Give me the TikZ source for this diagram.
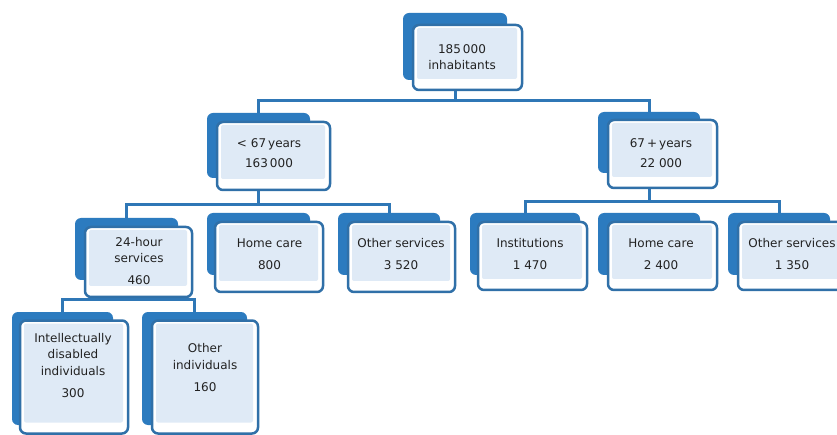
\documentclass[tikz,border=0pt]{standalone}
\usepackage{fontspec}
\setmainfont{DejaVu Sans}
\usetikzlibrary{backgrounds}
\definecolor{backblue}{HTML}{2C7BBF}
\definecolor{edgeblue}{HTML}{3070A8}
\definecolor{linkblue}{HTML}{2F77B6}
\definecolor{innerfill}{HTML}{DFEAF6}
\definecolor{txtcol}{HTML}{222222}
\tikzset{
  backbox/.style={fill=backblue, rounded corners=6pt, inner sep=0pt, outer sep=0pt},
  frontbox/.style={fill=white, draw=edgeblue, line width=2.5pt, rounded corners=6pt,
    inner sep=0pt, outer sep=0pt,
    path picture={\fill[innerfill, rounded corners=2pt]
      ([xshift=4pt,yshift=-3pt]path picture bounding box.north west) rectangle
      ([xshift=-5pt,yshift=11pt]path picture bounding box.south east);}},
  txt/.style={align=center, text=txtcol, inner sep=0pt, font=\fontsize{12}{16.5}\selectfont},
  link/.style={draw=linkblue, line width=3pt}
}
\begin{document}
\begin{tikzpicture}[x=1pt,y=-1pt]
\useasboundingbox (0,0) rectangle (837,435);
% back boxes
\node[backbox, minimum width=104, minimum height=67] (broot) at (455,46.5) {};
\node[backbox, minimum width=103, minimum height=65] (blt) at (258.5,145.5) {};
\node[backbox, minimum width=102, minimum height=61] (brt) at (649,142.5) {};
\node[backbox, minimum width=103, minimum height=62] (b24) at (126.5,249) {};
\node[backbox, minimum width=103, minimum height=62] (bhc1) at (258.5,244) {};
\node[backbox, minimum width=102, minimum height=62] (bos1) at (389,244) {};
\node[backbox, minimum width=110, minimum height=62] (binst) at (525,244) {};
\node[backbox, minimum width=102, minimum height=62] (bhc2) at (649,244) {};
\node[backbox, minimum width=102, minimum height=62] (bos2) at (779,244) {};
\node[backbox, minimum width=101, minimum height=113] (bint) at (62.5,368.5) {};
\node[backbox, minimum width=105, minimum height=113] (boi) at (194.5,368.5) {};
% front boxes
\node[frontbox, minimum width=109, minimum height=65] (root) at (467.5,57.5) {};
\node[frontbox, minimum width=113, minimum height=68] (lt) at (273.5,156) {};
\node[frontbox, minimum width=109, minimum height=68] (rt) at (662.5,154) {};
\node[frontbox, minimum width=107, minimum height=70] (h24) at (138.5,262) {};
\node[frontbox, minimum width=108, minimum height=70] (hc1) at (269,257) {};
\node[frontbox, minimum width=107, minimum height=70] (os1) at (401.5,257) {};
\node[frontbox, minimum width=109, minimum height=68] (inst) at (532.5,256) {};
\node[frontbox, minimum width=109, minimum height=68] (hc2) at (662.5,256) {};
\node[frontbox, minimum width=108, minimum height=68] (os2) at (792,256) {};
\node[frontbox, minimum width=108, minimum height=113] (int) at (74,377) {};
\node[frontbox, minimum width=106, minimum height=113] (oi) at (205,377) {};
% texts
\node[txt] (root-t) at (462,57) {185\,000\\inhabitants};
\node[txt] (lt-t) at (269,153) {<\,\,67\,years\\[3.5pt]163\,000};
\node[txt] (rt-t) at (661,153) {67\,+\,years\\[3.5pt]22 000};
\node[txt] (h24-t) at (139,261) {24-hour\\services\\[5.5pt]460};
\node[txt] (hc1-t) at (269.5,254) {Home care\\[5.5pt]800};
\node[txt] (os1-t) at (401,254) {Other services\\[5.5pt]3 520};
\node[txt] (inst-t) at (530,254) {Institutions\\[5.5pt]1 470};
\node[txt] (hc2-t) at (661,254) {Home care\\[5.5pt]2 400};
\node[txt] (os2-t) at (792,254) {Other services\\[5.5pt]1 350};
\node[txt] (int-t) at (73,365.5) {Intellectually\\disabled\\individuals\\[5.5pt]300};
\node[txt] (oi-t) at (205,367.5) {Other\\individuals\\[5.5pt]160};
% connectors
\begin{scope}[on background layer]
\fill[white] (0,0) rectangle (837,435);
\path (broot.south) ++(0,21) coordinate (j1);
\path (blt.south) ++(0,27) coordinate (j2);
\path (brt.south) ++(0,29) coordinate (j3);
\path (b24.south) ++(0,20) coordinate (j4);
\draw[link] (broot.south) -- (j1);
\draw[link] (blt.north) |- (j1) -| (brt.north);
\draw[link] (blt.south) -- (j2);
\draw[link] (b24.north) |- (j2) -| (bos1.north);
\draw[link] (brt.south) -- (j3);
\draw[link] (binst.north) |- (j3) -| (bos2.north);
\draw[link] (b24.south) -- (j4);
\draw[link] (bint.north) |- (j4) -| (boi.north);
\end{scope}
\end{tikzpicture}
\end{document}
